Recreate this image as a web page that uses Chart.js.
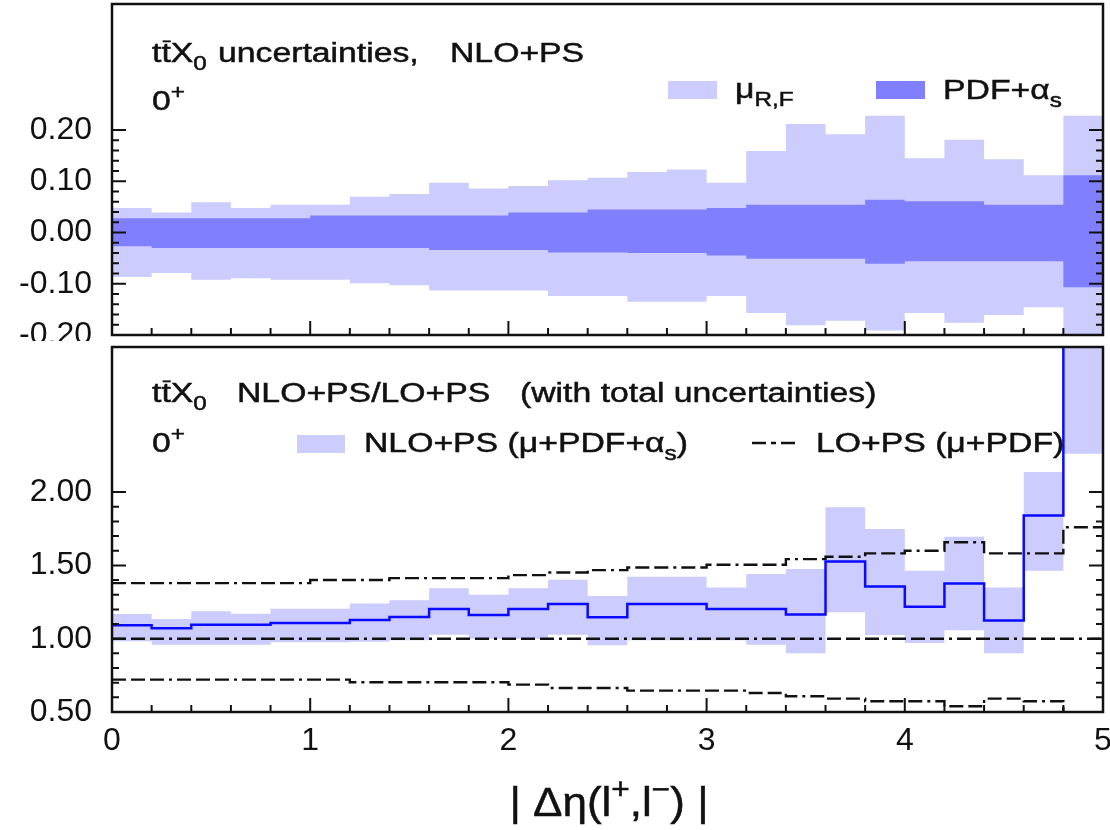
<!DOCTYPE html>
<html>
<head>
<meta charset="utf-8">
<script src="https://cdn.jsdelivr.net/npm/chart.js@4.4.1/dist/chart.umd.min.js"></script>
<style>
  html, body { margin: 0; padding: 0; background: #fff; }
  #wrap { position: relative; width: 1110px; height: 830px; overflow: hidden; background: #fff; }
  canvas { position: absolute; left: 0; }
  #topChart { top: 0; }
  #bottomChart { top: 341px; }
</style>
</head>
<body>
<div id="wrap">
  <canvas id="topChart" width="1110" height="341"></canvas>
  <canvas id="bottomChart" width="1110" height="489"></canvas>
</div>
<script>
// bin edges of |Δη(l+,l-)|
const binEdges = [0, 0.2, 0.4, 0.6, 0.8, 1.0, 1.2, 1.4, 1.6, 1.8, 2.0, 2.2, 2.4,
                  2.6, 2.8, 3.0, 3.2, 3.4, 3.6, 3.8, 4.0, 4.2, 4.4, 4.6, 4.8, 5.0];

// top panel: relative uncertainties (one value per bin)
const scaleUp   = [0.048, 0.039, 0.059, 0.048, 0.054, 0.054, 0.070, 0.075, 0.097, 0.086, 0.091, 0.102, 0.107,
                   0.118, 0.123, 0.097, 0.159, 0.212, 0.192, 0.228, 0.145, 0.181, 0.143, 0.112, 0.228];
const scaleDown = [-0.087, -0.079, -0.092, -0.089, -0.092, -0.092, -0.099, -0.103, -0.113, -0.113, -0.113, -0.124, -0.124,
                   -0.135, -0.135, -0.124, -0.157, -0.181, -0.172, -0.191, -0.157, -0.176, -0.161, -0.146, -0.230];
const pdfUp     = [0.028, 0.028, 0.028, 0.028, 0.028, 0.033, 0.033, 0.033, 0.033, 0.033, 0.039, 0.039, 0.045,
                   0.045, 0.045, 0.048, 0.054, 0.054, 0.054, 0.064, 0.061, 0.061, 0.054, 0.054, 0.112];
const pdfDown   = [-0.027, -0.030, -0.030, -0.030, -0.030, -0.030, -0.030, -0.030, -0.034, -0.034, -0.034, -0.039, -0.039,
                   -0.040, -0.040, -0.045, -0.051, -0.051, -0.051, -0.061, -0.056, -0.056, -0.056, -0.056, -0.107];

// bottom panel: NLO+PS / LO+PS
const nloRatio  = [1.092, 1.072, 1.095, 1.095, 1.108, 1.108, 1.128, 1.148, 1.203, 1.162, 1.203, 1.236, 1.146,
                   1.237, 1.237, 1.202, 1.202, 1.165, 1.527, 1.356, 1.218, 1.377, 1.125, 1.840, 3.600];
const nloUp     = [1.168, 1.134, 1.187, 1.171, 1.205, 1.205, 1.241, 1.262, 1.345, 1.300, 1.345, 1.403, 1.292,
                   1.422, 1.422, 1.349, 1.441, 1.475, 1.897, 1.749, 1.463, 1.696, 1.349, 2.137, 4.200];
const nloDown   = [0.982, 0.958, 0.958, 0.958, 0.975, 0.975, 0.980, 0.990, 1.027, 1.000, 1.000, 1.027, 0.955,
                   0.990, 0.990, 0.990, 0.958, 0.900, 1.180, 1.025, 0.970, 1.057, 0.900, 1.463, 2.262];
const loUp      = [1.379, 1.379, 1.379, 1.379, 1.379, 1.400, 1.400, 1.413, 1.413, 1.413, 1.434, 1.452, 1.468,
                   1.486, 1.486, 1.505, 1.505, 1.543, 1.559, 1.582, 1.600, 1.658, 1.582, 1.582, 1.760];
const loCentral = [1, 1, 1, 1, 1, 1, 1, 1, 1, 1, 1, 1, 1, 1, 1, 1, 1, 1, 1, 1, 1, 1, 1, 1, 1];
const loDown    = [0.721, 0.721, 0.721, 0.721, 0.721, 0.721, 0.703, 0.703, 0.703, 0.703, 0.687, 0.664, 0.664,
                   0.646, 0.646, 0.646, 0.630, 0.607, 0.591, 0.573, 0.573, 0.539, 0.591, 0.573, 0.450];

// axis ticks
const xTicks = [0, 1, 2, 3, 4, 5];
const topYTicks = [-0.2, -0.1, 0, 0.1, 0.2];
const bottomYTicks = [0.5, 1, 1.5, 2];

const bandLight = '#ccccff';
const bandDark = '#8080ff';
const ink = '#111111';
const FONT = '"Liberation Sans", Arial, Helvetica, sans-serif';
const loDash = [14, 5, 14, 5, 14, 5, 3, 5];

// histogram as step line: value of bin i held from edge i to edge i+1
function steps(vals) {
    return binEdges.map((x, i) => ({ x: x, y: vals[Math.min(i, vals.length - 1)] }));
}

function bandSet(vals, color, fillTo) {
    return {
        data: steps(vals),
        stepped: 'before',
        borderWidth: 0,
        pointRadius: 0,
        backgroundColor: color,
        fill: fillTo === undefined ? false : fillTo
    };
}

function lineSet(vals, color, width, dash) {
    return {
        data: steps(vals),
        stepped: 'before',
        borderColor: color,
        borderWidth: width,
        borderDash: dash || [],
        pointRadius: 0,
        fill: false
    };
}

function isMajor(v, list) {
    return list.some(m => Math.abs(m - v) < 1e-6);
}

// text with sub/superscripts, stretched a little sideways like the original figure
function drawRich(ctx, item) {
    const size = item.size || 27;
    const sx = item.sx || 1.25;
    const parts = item.parts.map(p => typeof p === 'string' ? { t: p } : p);
    const fontFor = p => ((p.sub || p.sup) ? size * 0.72 : size) + 'px ' + FONT;
    let total = 0;
    parts.forEach(p => { ctx.font = fontFor(p); total += ctx.measureText(p.t).width; });
    ctx.save();
    ctx.translate(item.align === 'center' ? item.x - total * sx / 2 : item.x, item.y);
    ctx.scale(sx, 1);
    ctx.fillStyle = ink;
    ctx.strokeStyle = ink;
    ctx.lineWidth = 0.5;
    ctx.textAlign = 'left';
    ctx.textBaseline = 'alphabetic';
    let x = 0;
    parts.forEach(p => {
        ctx.font = fontFor(p);
        const dy = p.sub ? size * 0.3 : p.sup ? -size * 0.42 : 0;
        ctx.fillText(p.t, x, dy);
        ctx.strokeText(p.t, x, dy);
        const w = ctx.measureText(p.t).width;
        if (p.bar) ctx.fillRect(x + 1, dy - size * 0.8, w - 1, size * 0.07);
        x += w;
    });
    ctx.restore();
}

const panelDeco = {
    id: 'panelDeco',
    afterDatasetsDraw(chart, args, opts) {
        const { ctx, chartArea: a } = chart;
        const xs = chart.scales.x;
        const ys = chart.scales.y;
        ctx.save();
        ctx.strokeStyle = ink;
        ctx.lineWidth = 2;
        ctx.setLineDash([]);
        ctx.beginPath();
        // inward ticks on the bottom edge
        binEdges.forEach(v => {
            const px = xs.getPixelForValue(v);
            const len = isMajor(v, xTicks) ? 14 : 7;
            ctx.moveTo(px, a.bottom);
            ctx.lineTo(px, a.bottom - len);
        });
        // inward ticks on left and right edges
        const n = Math.round((opts.yMinorTo - opts.yMinorFrom) / opts.yMinorStep);
        for (let k = 0; k <= n; k++) {
            const v = opts.yMinorFrom + k * opts.yMinorStep;
            const py = ys.getPixelForValue(v);
            const len = isMajor(v, opts.yMajor) ? 14 : 7;
            ctx.moveTo(a.left, py); ctx.lineTo(a.left + len, py);
            ctx.moveTo(a.right, py); ctx.lineTo(a.right - len, py);
        }
        ctx.stroke();
        ctx.lineWidth = 2.5;
        ctx.strokeRect(a.left, a.top, a.right - a.left, a.bottom - a.top);

        // legend swatches and dashed sample
        (opts.swatches || []).forEach(s => {
            ctx.fillStyle = s.color;
            ctx.fillRect(s.x, s.y, s.w, s.h);
        });
        (opts.dashes || []).forEach(d => {
            ctx.strokeStyle = ink;
            ctx.lineWidth = 2.4;
            ctx.setLineDash([14, 5, 5, 5]);
            ctx.beginPath();
            ctx.moveTo(d.x1, d.y);
            ctx.lineTo(d.x2, d.y);
            ctx.stroke();
        });
        ctx.setLineDash([]);
        (opts.texts || []).forEach(t => drawRich(ctx, t));
        ctx.restore();
    }
};

Chart.defaults.font.family = FONT;

const ttX0 = ['t', { t: 't', bar: true }, 'X', { t: '0', sub: true }];

function yAxis(min, max, ticks) {
    return {
        type: 'linear',
        min: min,
        max: max,
        afterBuildTicks: s => { s.ticks = ticks.map(v => ({ value: v })); },
        ticks: {
            padding: 20,
            color: ink,
            font: { size: 32 },
            callback: v => v.toFixed(2)
        },
        grid: { display: false, drawTicks: false },
        border: { display: false },
        afterFit: s => { s.width = 112; s.paddingTop = 0; s.paddingBottom = 0; }
    };
}

// top panel: scale and PDF uncertainty bands
new Chart(document.getElementById('topChart'), {
    type: 'line',
    data: {
        datasets: [
            bandSet(pdfUp, bandDark, '+1'),
            bandSet(pdfDown, bandDark),
            bandSet(scaleUp, bandLight, '+1'),
            bandSet(scaleDown, bandLight)
        ]
    },
    options: {
        responsive: false,
        animation: false,
        layout: { padding: { left: 0, right: 7, top: 4, bottom: 6 } },
        plugins: {
            legend: { display: false },
            tooltip: { enabled: false },
            panelDeco: {
                yMinorFrom: -0.2, yMinorTo: 0.2, yMinorStep: 0.02, yMajor: topYTicks,
                swatches: [
                    { x: 668, y: 81, w: 49, h: 18, color: bandLight },
                    { x: 876, y: 81, w: 49, h: 18, color: bandDark }
                ],
                texts: [
                    { x: 152, y: 62, parts: ttX0 },
                    { x: 218, y: 62, parts: ['uncertainties,'] },
                    { x: 450, y: 62, parts: ['NLO+PS'] },
                    { x: 152, y: 110, parts: ['0', { t: '+', sup: true }] },
                    { x: 735, y: 98, parts: ['\u03bc', { t: 'R,F', sub: true }] },
                    { x: 943, y: 99, parts: ['PDF+\u03b1', { t: 's', sub: true }] }
                ]
            }
        },
        scales: {
            x: {
                type: 'linear', min: 0, max: 5,
                ticks: { display: false },
                grid: { display: false, drawTicks: false },
                border: { display: false },
                afterFit: s => { s.height = 0; s.paddingLeft = 0; s.paddingRight = 0; }
            },
            y: yAxis(-0.2, 0.446, topYTicks)
        }
    },
    plugins: [panelDeco]
});

// bottom panel: NLO+PS / LO+PS ratio
new Chart(document.getElementById('bottomChart'), {
    type: 'line',
    data: {
        datasets: [
            lineSet(nloRatio, '#0a0aff', 2.5),
            lineSet(loUp, ink, 2.4, loDash),
            lineSet(loCentral, ink, 2.4, loDash),
            lineSet(loDown, ink, 2.4, loDash),
            bandSet(nloUp, bandLight, '+1'),
            bandSet(nloDown, bandLight)
        ]
    },
    options: {
        responsive: false,
        animation: false,
        layout: { padding: { left: 0, right: 7, top: 6, bottom: 0 } },
        plugins: {
            legend: { display: false },
            tooltip: { enabled: false },
            panelDeco: {
                yMinorFrom: 0.5, yMinorTo: 2.0, yMinorStep: 0.1, yMajor: bottomYTicks,
                swatches: [
                    { x: 297, y: 94, w: 48, h: 18, color: bandLight }
                ],
                dashes: [
                    { x1: 752, x2: 795, y: 102 }
                ],
                texts: [
                    { x: 152, y: 61, parts: ttX0 },
                    { x: 237, y: 61, parts: ['NLO+PS/LO+PS'] },
                    { x: 520, y: 61, parts: ['(with total uncertainties)'] },
                    { x: 152, y: 111, parts: ['0', { t: '+', sup: true }] },
                    { x: 364, y: 111, parts: ['NLO+PS (\u03bc+PDF+\u03b1', { t: 's', sub: true }, ')'] },
                    { x: 816, y: 111, parts: ['LO+PS (\u03bc+PDF)'] },
                    { x: 609, y: 475, size: 40, sx: 1.1, align: 'center',
                      parts: ['| \u0394\u03b7(l', { t: '+', sup: true }, ',l', { t: '\u2212', sup: true }, ') |'] }
                ]
            }
        },
        scales: {
            x: {
                type: 'linear', min: 0, max: 5,
                afterBuildTicks: s => { s.ticks = xTicks.map(v => ({ value: v })); },
                ticks: { padding: 10, color: ink, font: { size: 32 }, maxRotation: 0 },
                grid: { display: false, drawTicks: false },
                border: { display: false },
                afterFit: s => { s.height = 118; s.paddingLeft = 0; s.paddingRight = 0; }
            },
            y: yAxis(0.5, 2.99, bottomYTicks)
        }
    },
    plugins: [panelDeco]
});
</script>
</body>
</html>
